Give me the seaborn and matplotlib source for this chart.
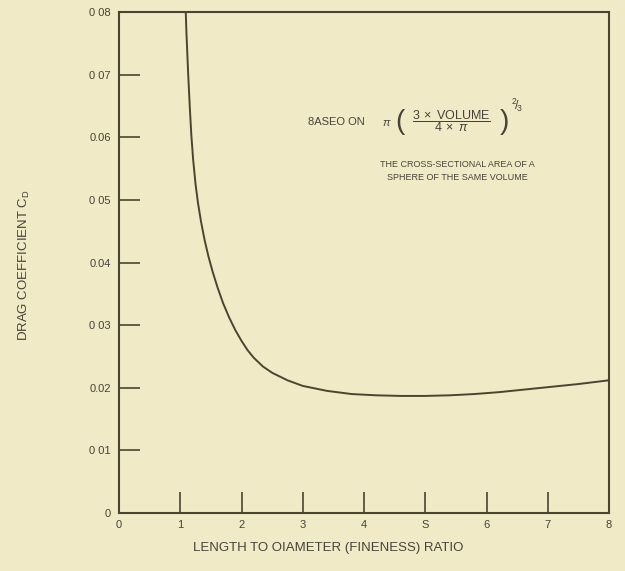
import numpy as np
import pandas as pd
import matplotlib
matplotlib.use("Agg")
import matplotlib.pyplot as plt
import seaborn as sns

# values
fineness = [1.09, 1.10, 1.115, 1.13, 1.155, 1.18, 1.21, 1.25, 1.29, 1.34,
            1.40, 1.46, 1.53, 1.61, 1.70, 1.80, 1.90, 2.00, 2.10, 2.20, 2.35,
            2.50, 2.75, 3.00, 3.40, 3.80, 4.20, 4.60, 5.00, 5.40, 5.80, 6.20,
            6.60, 7.00, 7.50, 8.00]
drag_cd = [0.0800, 0.0770, 0.0735, 0.0700, 0.0650, 0.0605, 0.0565, 0.0525,
           0.0495, 0.0465, 0.0435, 0.0410, 0.0385, 0.0360, 0.0335, 0.0312,
           0.0292, 0.0275, 0.0260, 0.0248, 0.0234, 0.0224, 0.0212, 0.0203,
           0.0195, 0.0190, 0.0188, 0.0187, 0.0187, 0.0188, 0.0190, 0.0193,
           0.0197, 0.0201, 0.0206, 0.0212]

x_ticks = [0, 1, 2, 3, 4, 5, 6, 7, 8]
x_labels = ["0", "1", "2", "3", "4", "S", "6", "7", "8"]
y_ticks = [0, 0.01, 0.02, 0.03, 0.04, 0.05, 0.06, 0.07, 0.08]
y_labels = ["0", "0 01", "0.02", "0 03", "0.04", "0 05", "0.06", "0 07", "0 08"]

paper = "#f1eac6"
ink = "#4a4532"
text_ink = "#45433a"

sns.set_theme(style="ticks")
plt.rcParams["font.family"] = ["Liberation Sans", "DejaVu Sans"]
plt.rcParams["mathtext.fontset"] = "custom"
plt.rcParams["mathtext.rm"] = "Liberation Sans"
plt.rcParams["mathtext.it"] = "Liberation Sans:italic"

df = pd.DataFrame({"ratio": fineness, "cd": drag_cd})

fig = plt.figure(figsize=(6.25, 5.71), dpi=100, facecolor=paper)
ax = fig.add_axes([0.1904, 0.1016, 0.784, 0.877])
ax.set_facecolor(paper)

sns.lineplot(data=df, x="ratio", y="cd", ax=ax, color=ink, linewidth=1.4)

ax.set_xlim(0, 8)
ax.set_ylim(0, 0.08)
ax.set_xticks(x_ticks)
ax.set_xticklabels(x_labels)
ax.set_yticks(y_ticks)
ax.set_yticklabels(y_labels)
ax.tick_params(direction="in", length=15, width=1.2, color=ink,
               labelsize=8, labelcolor=text_ink, pad=6)
ax.tick_params(axis="x", pad=5)
for s in ax.spines.values():
    s.set_color(ink)
    s.set_linewidth(1.5)
ax.set_xlabel("")
ax.set_ylabel("")

fig.text(0.525, 0.04, "LENGTH TO OIAMETER (FINENESS) RATIO", ha="center",
         va="center", fontsize=9.5, color=text_ink)
fig.text(0.039, 0.535, r"DRAG COEFFICIENT C$_\mathrm{D}$", rotation=90,
         ha="center", va="center", fontsize=9.5, color=text_ink)

# formula note, built from pieces so the brackets can be tall
fig.text(0.493, 0.786, "8ASEO ON", ha="left", va="center", fontsize=8,
         color=text_ink)
fig.text(0.611, 0.784, r"$\pi$", ha="left", va="center", fontsize=8,
         color=text_ink)
fig.text(0.633, 0.787, "(", ha="left", va="center", fontsize=20,
         color=text_ink, fontweight="light")
fig.text(0.722, 0.788,
         r"$\dfrac{3\;\times\;\mathrm{VOLUME}}{4\;\times\;\pi}$",
         ha="center", va="center", fontsize=9, color=text_ink)
fig.text(0.799, 0.787, ")", ha="left", va="center", fontsize=20,
         color=text_ink, fontweight="light")
fig.text(0.817, 0.816, r"$^2\!/\!_3$", ha="left", va="center", fontsize=9,
         color=text_ink)
fig.text(0.732, 0.700, "THE CROSS-SECTIONAL AREA OF A\nSPHERE OF THE SAME VOLUME",
         ha="center", va="center", fontsize=6.5, color=text_ink, linespacing=1.6)

fig.savefig("out.png", dpi=100, facecolor=paper)
